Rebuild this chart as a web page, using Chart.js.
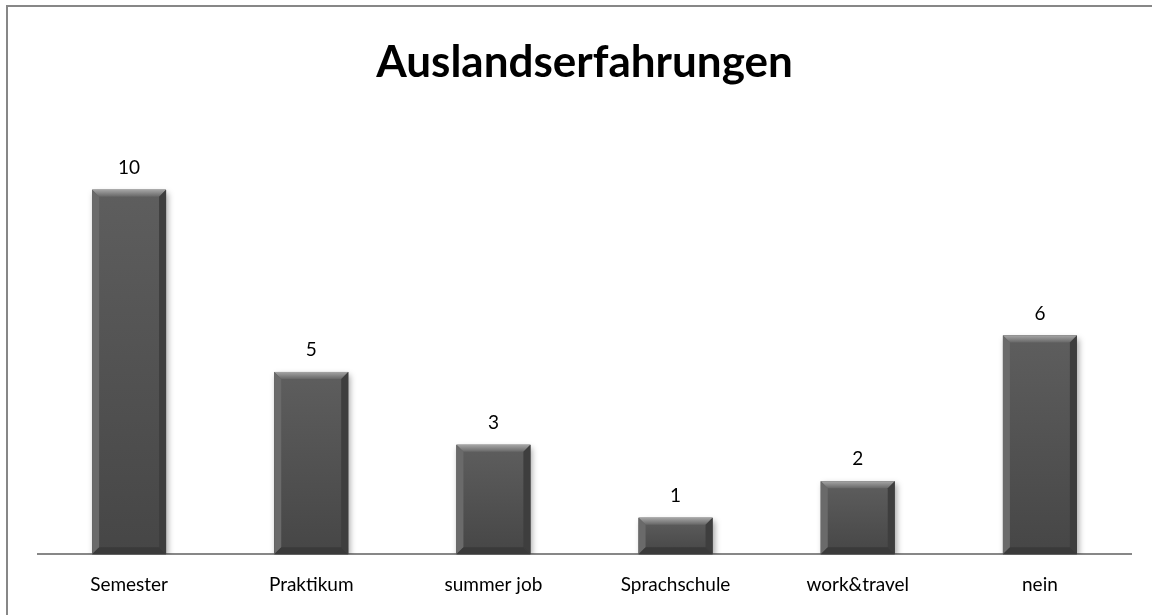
<!DOCTYPE html>
<html>
<head>
<meta charset="utf-8">
<script src="https://cdn.jsdelivr.net/npm/chart.js@4/dist/chart.umd.min.js"></script>
<style>
    html, body { margin: 0; padding: 0; background: #fff; overflow: hidden; }
    #rahmen { position: absolute; left: 6px; top: 5px; width: 1200px; height: 700px; border: 2px solid #878787; }
    #wrap { position: absolute; left: 0; top: 0; width: 1152px; height: 615px; }
</style>
</head>
<body>
<div id="rahmen"></div>
<div id="wrap"><canvas id="graph"></canvas></div>
<script>
/* Daten */
var kategorien = ["Semester", "Praktikum", "summer job", "Sprachschule", "work&travel", "nein"];
var anzahl = [10, 5, 3, 1, 2, 6];

var schrift = "Lato, 'Liberation Sans', sans-serif";

/* Balken mit Fase (wie in Excel) + Werte oben drauf */
var fasePlugin = {
    id: 'fase',
    beforeDatasetsDraw: function(chart) {
        var ctx = chart.ctx;
        ctx.save();
        ctx.shadowColor = 'rgba(0,0,0,0.35)';
        ctx.shadowBlur = 6;
        ctx.shadowOffsetX = 2;
        ctx.shadowOffsetY = 3;
    },
    afterDatasetsDraw: function(chart) {
        var ctx = chart.ctx;
        ctx.restore();
        var meta = chart.getDatasetMeta(0);
        meta.data.forEach(function(bar, i) {
            var l = bar.x - bar.width / 2, r = bar.x + bar.width / 2;
            var t = bar.y, u = bar.base;
            var b = Math.min(7, (u - t) / 2);

            // Flaeche
            var g = ctx.createLinearGradient(0, t, 0, u);
            g.addColorStop(0, '#5e5e5e');
            g.addColorStop(1, '#464646');
            ctx.fillStyle = g;
            ctx.fillRect(l, t, r - l, u - t);

            // oben
            var go = ctx.createLinearGradient(0, t, 0, t + b);
            go.addColorStop(0, '#a5a5a5');
            go.addColorStop(1, '#676767');
            ctx.fillStyle = go;
            ctx.beginPath();
            ctx.moveTo(l, t); ctx.lineTo(r, t); ctx.lineTo(r - b, t + b); ctx.lineTo(l + b, t + b);
            ctx.closePath(); ctx.fill();

            // links
            ctx.fillStyle = '#6a6a6a';
            ctx.beginPath();
            ctx.moveTo(l, t); ctx.lineTo(l + b, t + b); ctx.lineTo(l + b, u - b); ctx.lineTo(l, u);
            ctx.closePath(); ctx.fill();

            // rechts
            ctx.fillStyle = '#3e3e3e';
            ctx.beginPath();
            ctx.moveTo(r, t); ctx.lineTo(r - b, t + b); ctx.lineTo(r - b, u - b); ctx.lineTo(r, u);
            ctx.closePath(); ctx.fill();

            // unten
            ctx.fillStyle = '#3a3a3a';
            ctx.beginPath();
            ctx.moveTo(l, u); ctx.lineTo(l + b, u - b); ctx.lineTo(r - b, u - b); ctx.lineTo(r, u);
            ctx.closePath(); ctx.fill();

            // Wert
            ctx.fillStyle = '#000';
            ctx.font = '19px ' + schrift;
            ctx.textAlign = 'center';
            ctx.textBaseline = 'middle';
            ctx.fillText(String(anzahl[i]), bar.x, t - 22);
        });
    }
};

var graph = document.getElementById("graph").getContext("2d");

var myChart = new Chart(graph, {
    type: "bar",
    data: {
        labels: kategorien,
        datasets: [{
            label: "Auslandserfahrungen",
            data: anzahl,
            backgroundColor: '#555555',
            borderWidth: 0,
            categoryPercentage: 1.0,
            barPercentage: 0.406,
        }],
    },
    options: {
        responsive: true,
        maintainAspectRatio: false,
        animation: false,
        layout: {
            padding: { top: 0, left: 38, right: 21, bottom: 0 },
        },
        scales: {
            x: {
                grid: { display: false, drawTicks: false },
                border: { display: true, color: '#878787', width: 2 },
                ticks: { color: '#000', padding: 19, font: { size: 19, family: schrift } },
            },
            y: {
                display: false,
                min: 0,
                max: 12,
            },
        },
        plugins: {
            legend: { display: false },
            tooltip: { enabled: false },
            title: {
                display: true,
                text: "Auslandserfahrungen",
                color: '#000',
                font: { size: 44, weight: 'bold', family: schrift },
                padding: { top: 36, bottom: 28 },
            },
        },
    },
    plugins: [fasePlugin],
});
</script>
</body>
</html>
